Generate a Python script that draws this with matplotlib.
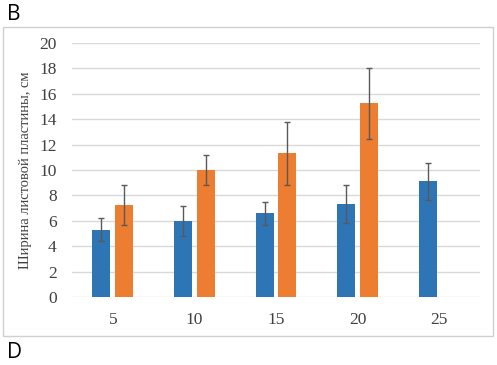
import numpy as np
import matplotlib
matplotlib.use("Agg")
import matplotlib.pyplot as plt
from matplotlib.patches import Rectangle

# data
categories = ["5", "10", "15", "20", "25"]
blue_values = [5.3, 6.0, 6.6, 7.35, 9.1]
blue_errors = [0.9, 1.2, 0.9, 1.5, 1.45]
orange_values = [7.25, 10.0, 11.3, 15.25, np.nan]
orange_errors = [1.55, 1.2, 2.5, 2.8, np.nan]
y_ticks = [0, 2, 4, 6, 8, 10, 12, 14, 16, 18, 20]

BLUE = "#2E75B6"
ORANGE = "#ED7D31"
GRID = "#D9D9D9"
ERR = "#595959"

plt.rcParams["font.family"] = ["Liberation Serif", "DejaVu Serif"]

fig = plt.figure(figsize=(4.97, 3.65), dpi=100)
W, H = 497, 365
ax = fig.add_axes([72 / W, 1 - 297 / H, 408 / W, 254 / H])

x = np.arange(len(categories))
width = 0.22
offset = 0.14

ax.bar(x - offset, blue_values, width, color=BLUE, zorder=3)
ax.bar(x + offset, orange_values, width, color=ORANGE, zorder=3)
ax.errorbar(x - offset, blue_values, yerr=blue_errors, fmt="none",
            ecolor=ERR, elinewidth=1.0, capsize=2.5, capthick=1.0, zorder=4)
ax.errorbar(x + offset, orange_values, yerr=orange_errors, fmt="none",
            ecolor=ERR, elinewidth=1.0, capsize=2.5, capthick=1.0, zorder=4)

ax.set_xlim(-0.5, len(categories) - 0.5)
ax.set_ylim(0, 20)
ax.set_yticks(y_ticks)
ax.set_xticks(x)
ax.set_xticklabels(categories)
ax.yaxis.grid(True, color=GRID, linewidth=1.0, zorder=0)
ax.set_axisbelow(True)
for s in ax.spines.values():
    s.set_visible(False)
ax.tick_params(axis="both", length=0, labelsize=12.5, colors="#404040")
ax.tick_params(axis="y", pad=11)
ax.tick_params(axis="x", pad=11)
ax.set_ylabel("Ширина листовой пластины, см", fontsize=10.5, color="#404040", labelpad=5)

# chart frame
fig.patches.append(Rectangle((3 / W, 1 - 336 / H), 490 / W, 309 / H,
                             transform=fig.transFigure, fill=False,
                             edgecolor="#D0D0D0", linewidth=1.0))

fig.text(7 / W, 1 - 14 / H, "B", fontsize=15, family="Open Sans", va="center", ha="left")
fig.text(7 / W, 1 - 352 / H, "D", fontsize=15, family="Open Sans", va="center", ha="left")

fig.savefig("out.png", dpi=100)
